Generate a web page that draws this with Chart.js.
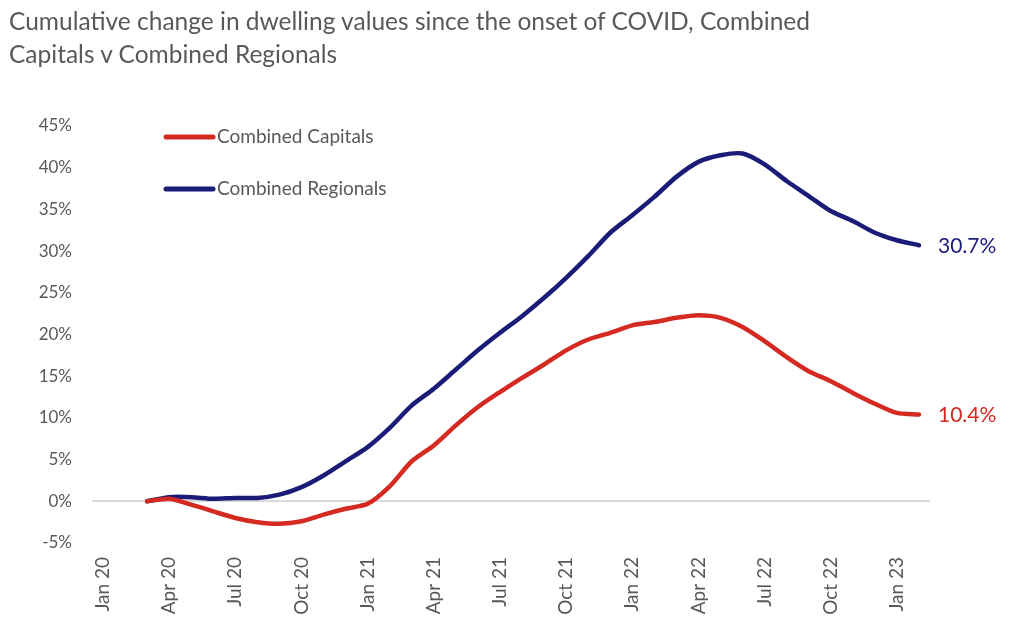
<!DOCTYPE html>
<html>
<head>
<meta charset="utf-8">
<script src="https://cdn.jsdelivr.net/npm/chart.js@4"></script>
<style>
  body { margin: 0; background: #fff; }
  #wrap { position: relative; width: 1019px; height: 636px; }
  #title {
    position: absolute; left: 9px; top: 4px;
    font-family: Lato, sans-serif; font-size: 24.5px; line-height: 33px;
    color: #595959; z-index: 2;
  }
</style>
</head>
<body>
<div id="wrap">
  <div id="title">Cumulative change in dwelling values since the onset of COVID, Combined<br>Capitals v Combined Regionals</div>
  <canvas id="myLineChart"></canvas>
</div>
<script>
// months Jan 20 .. Feb 23
const months = [
  "Jan 20", "Feb 20", "Mar 20", "Apr 20", "May 20", "Jun 20", "Jul 20", "Aug 20", "Sep 20", "Oct 20", "Nov 20", "Dec 20",
  "Jan 21", "Feb 21", "Mar 21", "Apr 21", "May 21", "Jun 21", "Jul 21", "Aug 21", "Sep 21", "Oct 21", "Nov 21", "Dec 21",
  "Jan 22", "Feb 22", "Mar 22", "Apr 22", "May 22", "Jun 22", "Jul 22", "Aug 22", "Sep 22", "Oct 22", "Nov 22", "Dec 22",
  "Jan 23", "Feb 23",
];
// % change, null before Mar 20
const capitals = [
  null, null, 0, 0.3, -0.4, -1.2, -2.0, -2.5, -2.7, -2.4, -1.6, -0.9,
  -0.3, 1.8, 4.8, 6.7, 9.1, 11.3, 13.1, 14.8, 16.4, 18.1, 19.4, 20.2,
  21.1, 21.5, 22.0, 22.3, 22.0, 20.9, 19.2, 17.3, 15.6, 14.4, 13.0, 11.7,
  10.6, 10.4,
];
const regionals = [
  null, null, 0, 0.5, 0.5, 0.3, 0.4, 0.4, 0.8, 1.7, 3.1, 4.8,
  6.5, 8.8, 11.5, 13.5, 15.8, 18.1, 20.2, 22.2, 24.4, 26.8, 29.4, 32.2,
  34.3, 36.5, 38.9, 40.7, 41.5, 41.7, 40.4, 38.4, 36.6, 34.8, 33.6, 32.2,
  31.3, 30.7,
];
const seriesNames = ["Combined Capitals", "Combined Regionals"];
const seriesColors = ["#d42a22", "#1b1b78"];
const yTicks = [-5, 0, 5, 10, 15, 20, 25, 30, 35, 40, 45];

const textGrey = "#595959";

// legend drawn inside the plot, like the excel one
const insideLegend = {
  id: "insideLegend",
  afterDraw(chart) {
    const ctx = chart.ctx;
    const rows = [137, 189];
    ctx.save();
    chart.data.datasets.forEach((ds, i) => {
      ctx.strokeStyle = ds.borderColor;
      ctx.lineWidth = 5;
      ctx.lineCap = "round";
      ctx.beginPath();
      ctx.moveTo(166, rows[i]);
      ctx.lineTo(213, rows[i]);
      ctx.stroke();
      ctx.fillStyle = textGrey;
      ctx.font = "19px Lato, sans-serif";
      ctx.textAlign = "left";
      ctx.textBaseline = "middle";
      ctx.fillText(ds.label, 217, rows[i]);
    });
    ctx.restore();
  },
};

// value labels at the end of each line
const endLabels = {
  id: "endLabels",
  afterDatasetsDraw(chart) {
    const ctx = chart.ctx;
    ctx.save();
    chart.data.datasets.forEach((ds, i) => {
      const meta = chart.getDatasetMeta(i);
      const last = meta.data[meta.data.length - 1];
      const v = ds.data[ds.data.length - 1];
      ctx.fillStyle = ds.borderColor;
      ctx.font = "21px Lato, sans-serif";
      ctx.textAlign = "left";
      ctx.textBaseline = "middle";
      ctx.fillText(v.toFixed(1) + "%", last.x + 19, last.y + 1);
    });
    ctx.restore();
  },
};

new Chart("myLineChart", {
  type: "line",
  data: {
    labels: months,
    datasets: [
      {
        label: seriesNames[0],
        data: capitals,
        borderColor: seriesColors[0],
        borderWidth: 4.5,
        pointRadius: 0,
        tension: 0.25,
        borderCapStyle: "round",
      },
      {
        label: seriesNames[1],
        data: regionals,
        borderColor: seriesColors[1],
        borderWidth: 4.5,
        pointRadius: 0,
        tension: 0.25,
        borderCapStyle: "round",
      },
    ],
  },
  plugins: [insideLegend, endLabels],
  options: {
    animation: false,
    responsive: true,
    maintainAspectRatio: false,
    layout: { padding: { top: 126, right: 89, bottom: 0, left: 0 } },
    plugins: {
      legend: { display: false },
      tooltip: { enabled: false },
    },
    scales: {
      x: {
        type: "category",
        offset: true,
        grid: { display: false, drawTicks: false },
        border: { display: false },
        afterFit: (scale) => { scale.height = 93; },
        ticks: {
          autoSkip: false,
          minRotation: 90,
          maxRotation: 90,
          padding: 14,
          color: textGrey,
          font: { family: "Lato, sans-serif", size: 19 },
          callback: function (value, index) {
            return index % 3 === 0 ? months[index] : "";
          },
        },
      },
      y: {
        min: yTicks[0],
        max: yTicks[yTicks.length - 1],
        afterFit: (scale) => { scale.width = 92; },
        afterBuildTicks: (scale) => {
          scale.ticks = yTicks.map((v) => ({ value: v }));
        },
        border: { display: false },
        grid: {
          drawTicks: false,
          lineWidth: 2,
          color: (c) => (c.tick && c.tick.value === 0 ? "#d9d9d9" : "rgba(0,0,0,0)"),
        },
        ticks: {
          padding: 20,
          color: textGrey,
          font: { family: "Lato, sans-serif", size: 17 },
          callback: (value) => value + "%",
        },
      },
    },
  },
});
</script>
</body>
</html>
